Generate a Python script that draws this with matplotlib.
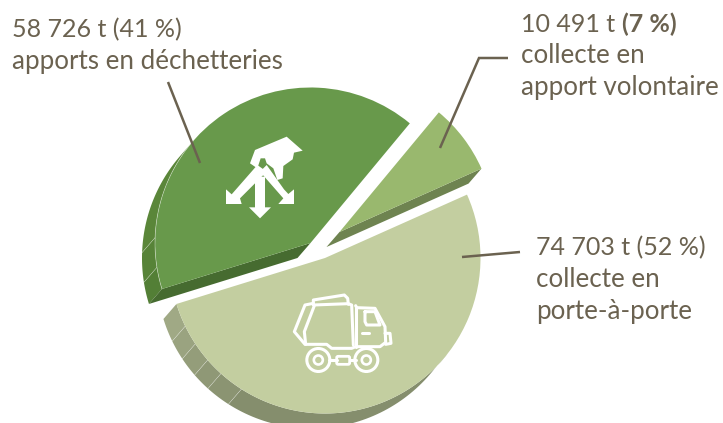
import numpy as np
import matplotlib.pyplot as plt
from matplotlib.patches import Polygon, Circle, FancyBboxPatch

H = 423

# tonnes per collection channel, clockwise from the top right
categories = ['collecte en apport volontaire', 'collecte en porte-à-porte', 'apports en déchetteries']
tonnes = [10491, 74703, 58726]
top_colors = ['#99b86e', '#c3cea0', '#68994b']
edge_colors = ['#6e8350', None, '#466b30']
facet_colors = {1: ['#a0a985', '#9aa380', '#949d7a', '#8f9876', '#8b9472', '#858e6d'],
                2: ['#5a8639', '#578338', '#537f36']}
facet_angles = {1: [-154, -146.5, -139, -132, -122.5], 2: [-182, -171]}

text_color = '#6b6250'
plt.rcParams['font.family'] = ['Lato', 'DejaVu Sans']

fig = plt.figure(figsize=(7.23, 4.23), dpi=100)
ax = fig.add_axes([0, 0, 1, 1])


def P(pts):
    return [(x, H - y) for x, y in pts]


wedges, _ = ax.pie(tonnes, startangle=50.3, counterclock=False, radius=155.5,
                   colors=top_colors, wedgeprops={'linewidth': 0})
centers = [(339.5, 232), (325, 258), (310.5, 243)]
depth = np.array([-13, -15])
vis_lo, vis_hi = -221, -38


def on_circle(c, r, a):
    a = np.radians(np.atleast_1d(a))
    return np.column_stack([c[0] + r * np.cos(a), c[1] + r * np.sin(a)])


for i, w in enumerate(wedges):
    c = np.array([centers[i][0], H - centers[i][1]], dtype=float)
    w.set_center(tuple(c))
    w.set_zorder(5)
    # straight side of the slab
    if edge_colors[i]:
        a = w.theta1 if i == 0 else w.theta2
        e = on_circle(c, w.r, a)[0]
        ax.add_patch(Polygon([c, e, e + depth, c + depth], fc=edge_colors[i], ec='none', zorder=3))
    # curved side, cut in facets
    if i in facet_colors:
        lo, hi = max(w.theta1, vis_lo), min(w.theta2, vis_hi)
        marks = [lo] + facet_angles[i] + [hi]
        for j in range(len(marks) - 1):
            t = np.linspace(marks[j], marks[j + 1], 60)
            a1 = on_circle(c, w.r, t)
            ax.add_patch(Polygon(np.vstack([a1, (a1 + depth)[::-1]]), fc=facet_colors[i][j],
                                 ec='none', zorder=2))
        for m in facet_angles[i]:
            e = on_circle(c, w.r, m)[0]
            ax.plot([e[0], e[0] + depth[0]], [e[1], e[1] + depth[1]], color='white', lw=0.4, alpha=0.45, zorder=4)

ax.set_xlim(0, 723)
ax.set_ylim(0, H)
ax.set_aspect('equal')
ax.axis('off')

# faint highlight along the rim of the darker slice
t = np.linspace(-221, wedges[2].theta2, 100)
rim = on_circle(np.array([310.5, H - 243]), 155.5, t)
ax.plot(rim[:, 0], rim[:, 1], color='white', lw=0.5, alpha=0.45, zorder=6)

# leader lines
for pts in [[(168, 82), (200, 163)], [(508, 58), (479, 58), (440, 148)], [(520, 252), (462, 257)]]:
    xy = np.array(P(pts))
    ax.plot(xy[:, 0], xy[:, 1], color=text_color, lw=1.8, zorder=7, solid_capstyle='butt', solid_joinstyle='miter')

# hand + arrows icon
ox, oy = 220, 130


def Z(pts):
    return [(ox + x / 3, H - (oy + y / 3)) for x, y in pts]


icon_shapes = [
    [(200, 20), (248, 62), (222, 68), (218, 88), (190, 108), (188, 145), (172, 150), (160, 115), (140, 100),
     (135, 85), (122, 85), (112, 115), (90, 100), (105, 60)],
    [(112, 105), (140, 125), (60, 205), (65, 222), (18, 222), (18, 178), (35, 193)],
    [(120, 125), (140, 105), (192, 178), (205, 192), (222, 178), (222, 222), (175, 222), (190, 205)],
    [(105, 140), (135, 140), (135, 232), (153, 232), (120, 265), (87, 232), (105, 232)],
]
for s in icon_shapes:
    ax.add_patch(Polygon(Z(s), fc='white', ec='none', zorder=8))

# truck icon
ox, oy = 285, 285
truck_lines = [
    [(85, 58), (85, 45), (178, 30), (188, 40), (190, 58)],
    [(85, 55), (60, 60), (28, 140), (60, 178), (125, 178), (140, 190), (200, 190), (212, 185), (285, 185), (302, 172), (300, 125), (270, 70), (215, 68), (212, 62)],
    [(88, 62), (58, 140), (62, 178)],
    [(85, 60), (190, 56), (200, 60), (205, 180)],
    [(212, 65), (212, 185)],
    [(240, 80), (270, 80), (285, 120), (245, 120), (240, 110), (240, 80)],
    [(230, 145), (252, 145)],
    [(300, 145), (315, 145), (318, 175), (302, 178)],
    [(132, 225), (155, 225)],
    [(195, 225), (213, 225)],
]
for s in truck_lines:
    xy = np.array(Z(s))
    ax.plot(xy[:, 0], xy[:, 1], color='white', lw=2.2, zorder=8, solid_joinstyle='round', solid_capstyle='round')
for zx in (100, 244):
    c = Z([(zx, 225)])[0]
    ax.add_patch(Circle(c, 11.5, fc='none', ec='white', lw=2.2, zorder=8))
    ax.add_patch(Circle(c, 4.5, fc='none', ec='white', lw=1.9, zorder=8))
x0, y0 = Z([(155, 238)])[0]
ax.add_patch(FancyBboxPatch((x0, y0), 13, 8, boxstyle='round,pad=0,rounding_size=1.5', fc='none', ec='white', lw=2, zorder=8))

# labels: number lines a bit smaller, this face has wider digits than the original
fs_num, fs_txt = 18, 18.7
t_style = dict(color=text_color, va='baseline', ha='left', zorder=9)
ax.text(12, H - 37, '58 726 t (41 %)', fontsize=fs_num, **t_style)
ax.text(12, H - 69, 'apports en déchetteries', fontsize=fs_txt, **t_style)
lab = ax.text(521, H - 32, '10 491 t', fontsize=fs_num, **t_style)
fig.canvas.draw()
bold_x = ax.transData.inverted().transform(lab.get_window_extent().get_points())[1, 0] + 7
ax.text(bold_x, H - 32, '(7 %)', fontsize=fs_num, fontweight='bold', **t_style)
ax.text(521, H - 63, 'collecte en', fontsize=fs_txt, **t_style)
ax.text(521, H - 95, 'apport volontaire', fontsize=fs_txt, **t_style)
ax.text(536, H - 255, '74 703 t (52 %)', fontsize=fs_num, **t_style)
ax.text(536, H - 287, 'collecte en', fontsize=fs_txt, **t_style)
ax.text(536, H - 319, 'porte-à-porte', fontsize=fs_txt, **t_style)

fig.savefig('out.png', dpi=100, facecolor='white')
